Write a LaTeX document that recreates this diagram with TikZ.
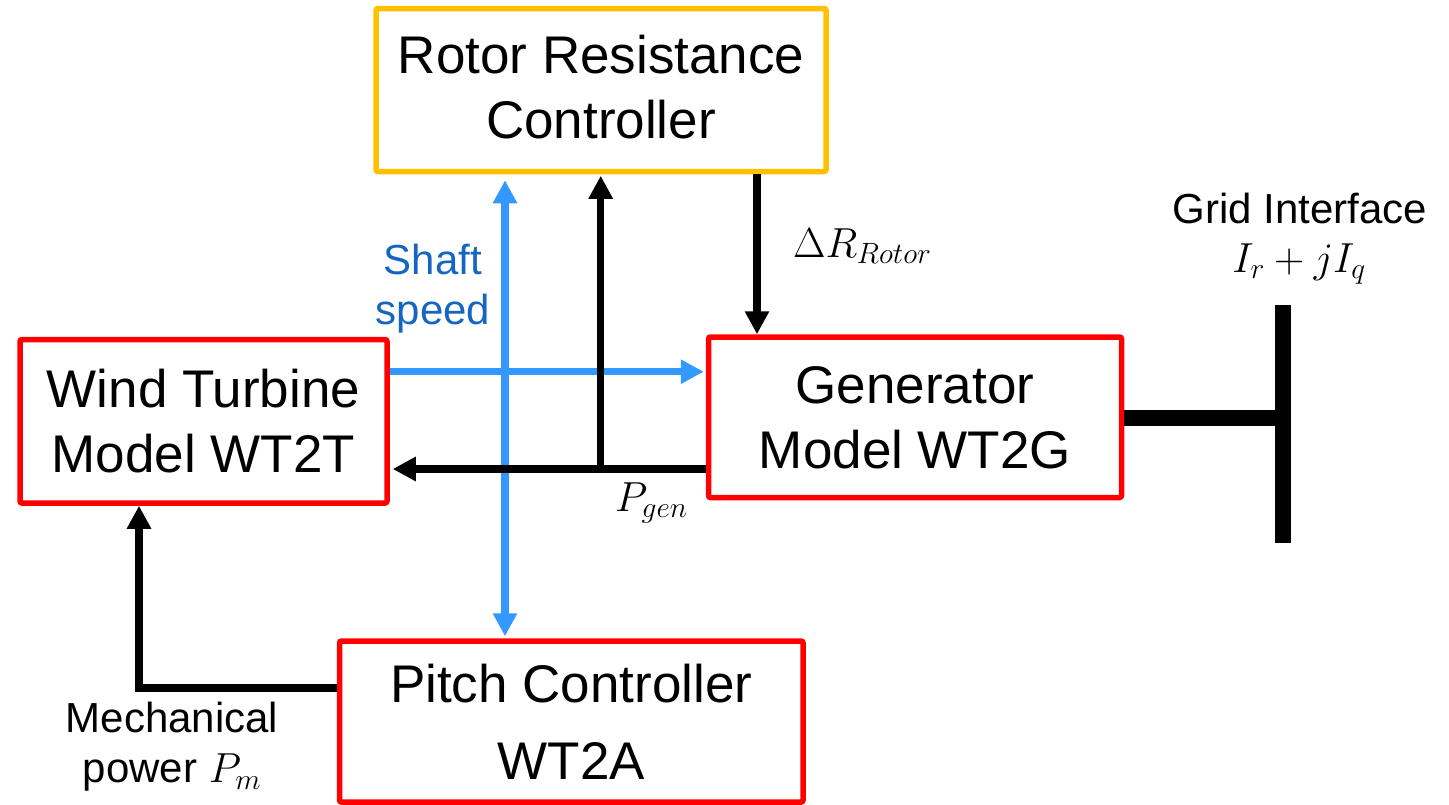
\RequirePackage{fix-cm}
\documentclass[tikz,border=0pt]{standalone}
\usepackage{fontspec}
\setmainfont{Liberation Sans}
\usetikzlibrary{arrows.meta}
\definecolor{bxred}{RGB}{255,0,0}
\definecolor{bxorange}{RGB}{255,192,0}
\definecolor{arrblue}{RGB}{51,153,255}
\definecolor{txtblue}{RGB}{20,102,194}
\begin{document}
\begin{tikzpicture}[x=1pt,y=-1pt,
  blockbox/.style={draw, line width=5.5pt, rounded corners=2pt, align=center, inner sep=0pt, font=\fontsize{53}{65}\selectfont},
  tipT/.tip={Triangle[width=23pt,length=23pt]},
  sig/.style={line width=7.5pt, -tipT},
  sigboth/.style={line width=7.5pt, tipT-tipT},
  lbl/.style={inner sep=0pt, font=\fontsize{42}{50}\selectfont},
  mlbl/.style={inner sep=0pt, font=\fontsize{42}{50}\selectfont}]
\useasboundingbox (0,0) rectangle (1449,804);

% blocks
\node[blockbox, draw=bxorange, minimum width=450pt, minimum height=163pt, text depth=6pt] (rrc) at (601,90) {Rotor Resistance\\Controller};
\node[blockbox, draw=bxred, minimum width=367pt, minimum height=163.5pt] (wt) at (203.5,421.25) {Wind Turbine\\Model WT2T};
\node[blockbox, draw=bxred, minimum width=413pt, minimum height=160.5pt] (gen) at (915,417.25) {Generator\\Model WT2G};
\node[blockbox, draw=bxred, minimum width=463.5pt, minimum height=161pt, font=\fontsize{53}{77}\selectfont] (pc) at (571.25,721.5) {Pitch Controller\\WT2A};

% grid bus
\node[fill=black, minimum width=16pt, minimum height=238pt, inner sep=0pt] (bus) at (1283,424) {};
\draw[line width=16pt] (gen.east |- 0,418) -- (bus.center |- 0,418);

% connectors
\draw[sigboth, color=arrblue, shorten <=6pt, shorten >=2pt] (rrc.south -| 505,0) -- (pc.north -| 505,0);
\draw[sig, color=arrblue, shorten >=2pt] (wt.east |- 0,371.7) -- (gen.west |- 0,371.7);
\draw[sig, shorten >=3pt] (gen.west |- 0,469) -- (wt.east |- 0,469);
\coordinate (jn) at (600.7,469);
\draw[sig, shorten >=1.5pt] (jn) -- (rrc.south -| jn);
\draw[sig] (rrc.south -| 757,0) -- (gen.north -| 757,0);
\draw[sig, line join=miter] (pc.west |- 0,688) -| (wt.south -| 139,0);

% labels
\node[lbl, text=txtblue, align=center] (shaft) at (433,289) {Shaft\\speed};
\node[mlbl, anchor=base west] (dr) at (793,257) {$\Delta R_{Rotor}$};
\node[mlbl, anchor=base west] (pg) at (615,511) {$P_{gen}$};
\node[lbl, anchor=base] (gi) at (1300,223) {Grid Interface};
\node[mlbl, anchor=base] (irq) at (1299,272) {$I_r + jI_q$};
\node[lbl, align=center] (mp) at (172,747) {Mechanical\\power $P_m$};
\end{tikzpicture}
\end{document}
